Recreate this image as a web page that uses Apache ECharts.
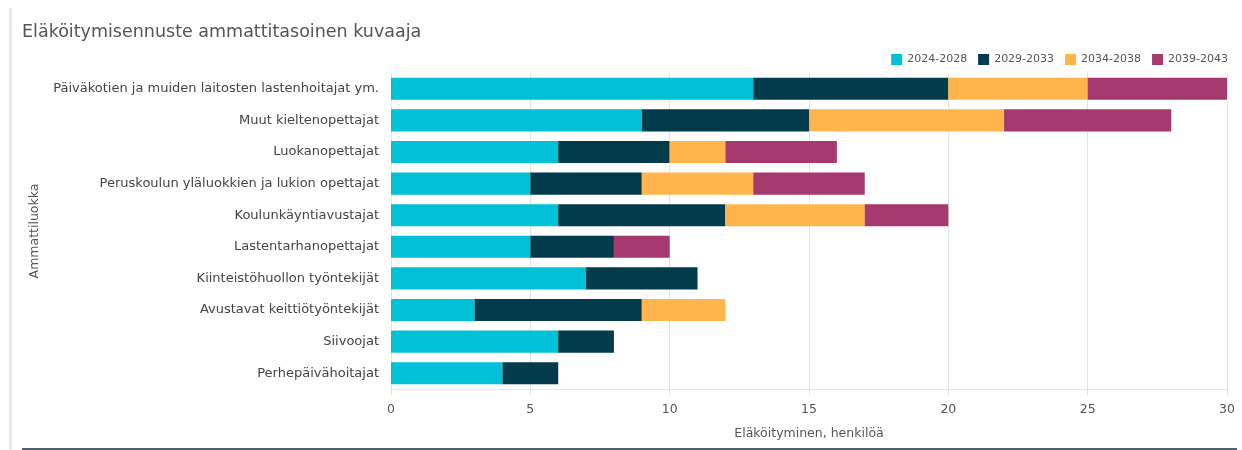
<!DOCTYPE html>
<html>
<head>
<meta charset="utf-8">
<script src="https://cdn.jsdelivr.net/npm/echarts@6/dist/echarts.min.js"></script>
<style>
  html, body { margin: 0; padding: 0; background: #fff; }
  #chart { width: 1242px; height: 450px; }
</style>
</head>
<body>
<div id="chart"></div>
<script>
const categories = [
  "Päiväkotien ja muiden laitosten lastenhoitajat ym.",
  "Muut kieltenopettajat",
  "Luokanopettajat",
  "Peruskoulun yläluokkien ja lukion opettajat",
  "Koulunkäyntiavustajat",
  "Lastentarhanopettajat",
  "Kiinteistöhuollon työntekijät",
  "Avustavat keittiötyöntekijät",
  "Siivoojat",
  "Perhepäivähoitajat"
];
const periods = ["2024-2028", "2029-2033", "2034-2038", "2039-2043"];
const p2024 = [13, 9, 6, 5, 6, 5, 7, 3, 6, 4];
const p2029 = [7, 6, 4, 4, 6, 3, 4, 6, 2, 2];
const p2034 = [5, 7, 2, 4, 5, 0, 0, 3, 0, 0];
const p2039 = [5, 6, 4, 4, 3, 2, 0, 0, 0, 0];
const colors = ["#00c1d6", "#023b4b", "#ffb54c", "#a63a6f"];

const font = "DejaVu Sans";
const chart = echarts.init(document.getElementById("chart"));
const values = [p2024, p2029, p2034, p2039];

chart.setOption({
  animation: false,
  textStyle: { fontFamily: font },
  title: {
    text: "Eläköitymisennuste ammattitasoinen kuvaaja",
    left: 17,
    top: 18,
    textStyle: { fontFamily: font, fontSize: 17.5, fontWeight: "normal", color: "#555" }
  },
  legend: {
    right: 9,
    top: 49,
    itemWidth: 11,
    itemHeight: 11,
    itemGap: 11,
    icon: "rect",
    textStyle: { fontFamily: font, fontSize: 11, color: "#555" },
    data: periods
  },
  grid: { left: 391, right: 15, top: 73, bottom: 61 },
  xAxis: {
    type: "value",
    min: 0,
    max: 30,
    interval: 5,
    name: "Eläköityminen, henkilöä",
    nameLocation: "middle",
    nameGap: 38,
    nameTextStyle: { fontFamily: font, fontSize: 12.5, color: "#555" },
    axisLine: { show: true, lineStyle: { color: "#e4e4e4" } },
    axisTick: { show: true, length: 6, lineStyle: { color: "#e4e4e4" } },
    axisLabel: { fontFamily: font, fontSize: 12.5, color: "#555", margin: 14 },
    splitLine: { lineStyle: { color: "#e4e4e4" } }
  },
  yAxis: {
    type: "category",
    inverse: true,
    data: categories,
    name: "Ammattiluokka",
    nameLocation: "middle",
    nameGap: 350,
    nameRotate: 90,
    nameTextStyle: { fontFamily: font, fontSize: 12.5, color: "#555" },
    axisLine: { show: true, lineStyle: { color: "#e4e4e4" } },
    axisTick: { show: false },
    axisLabel: { fontFamily: font, fontSize: 13, color: "#444", margin: 12 }
  },
  series: periods.map((p, i) => ({
    name: p,
    type: "bar",
    stack: "total",
    barWidth: "70%",
    itemStyle: { color: colors[i] },
    data: values[i]
  })),
  graphic: [
    { type: "rect", left: 9, top: 8, shape: { width: 3, height: 442 }, style: { fill: "#e8e8e8" } },
    { type: "rect", left: 22, top: 448, shape: { width: 1215, height: 2 }, style: { fill: "#50616a" } }
  ]
});
</script>
</body>
</html>
